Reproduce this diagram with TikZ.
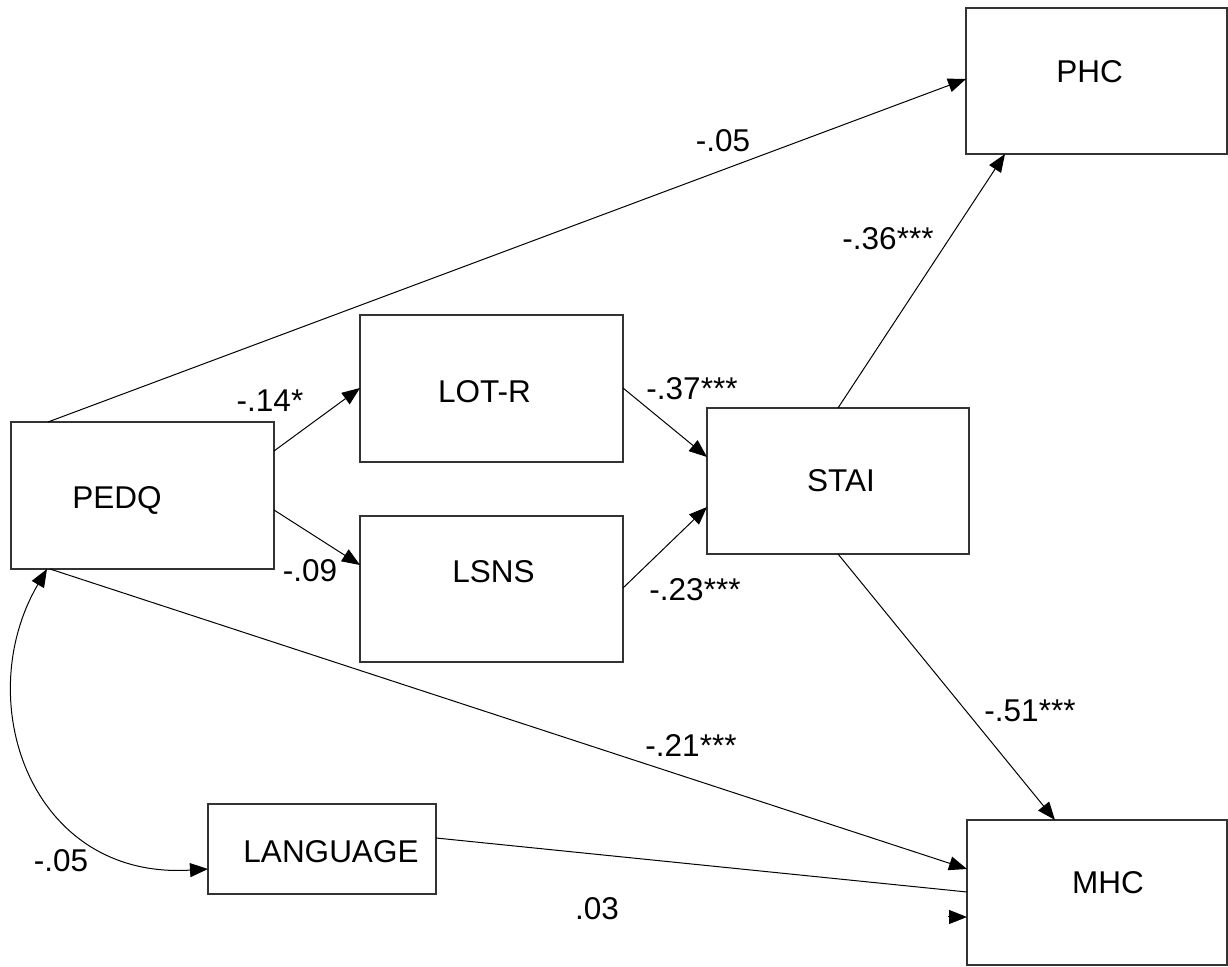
\documentclass[tikz,border=0pt]{standalone}
\usepackage{fontspec}
\setmainfont{Liberation Sans}
\usetikzlibrary{arrows.meta,calc}
\begin{document}
\begin{tikzpicture}[x=0.5pt,y=-0.5pt,
  box/.style={draw=black!80, line width=0.6pt, rectangle, inner sep=0pt, outer sep=0pt},
  txt/.style={inner sep=0pt, font=\fontsize{15.75}{18}\selectfont, text height=11.3pt, text depth=0pt},
  conn/.style={draw, line width=0.5pt, -{Triangle[length=9pt,width=7pt]}},
  plain/.style={draw, line width=0.5pt},
]
\useasboundingbox (0,0) rectangle (1228,967);
% boxes
\node[box, minimum width=131.5pt, minimum height=73.5pt] (pedq) at (142.5,495.5) {};
\node[box, minimum width=131.5pt, minimum height=73.5pt] (lotr) at (491.5,388.5) {};
\node[box, minimum width=131.5pt, minimum height=73pt]   (lsns) at (491.5,589) {};
\node[box, minimum width=131pt,   minimum height=73pt]   (stai) at (838,481) {};
\node[box, minimum width=130.5pt, minimum height=73pt]   (phc)  at (1096.5,81) {};
\node[box, minimum width=130pt,   minimum height=72.5pt] (mhc)  at (1097,892.5) {};
\node[box, minimum width=114pt,   minimum height=45pt]   (lang) at (322,849) {};
% box texts
\node[txt] (pedqt) at (117,497) {PEDQ};
\node[txt] (lotrt) at (484.5,391) {LOT-R};
\node[txt] (lsnst) at (493.5,571) {LSNS};
\node[txt] (stait) at (841,480) {STAI};
\node[txt] (phct)  at (1089.5,71.5) {PHC};
\node[txt] (mhct)  at (1108,882) {MHC};
\node[txt] (langt) at (331,851.5) {LANGUAGE};
% connectors
\draw[conn] ($(pedq.north west)+(37,0)$) -- ($(phc.north west)+(0,71)$);
\draw[conn] ($(pedq.north east)+(0,29)$) -- ($(lotr.north west)+(0,73)$);
\draw[conn] ($(pedq.north east)+(0,88)$) -- ($(lsns.north west)+(0,49)$);
\draw[conn] ($(lotr.north east)+(0,73)$) -- ($(stai.north west)+(0,49)$);
\draw[conn] ($(lsns.north east)+(0,72)$) -- ($(stai.north west)+(0,99)$);
\draw[conn] (stai.north) -- ($(phc.south west)+(39,0)$);
\draw[conn] (stai.south) -- ($(mhc.north west)+(88,0)$);
\draw[conn] ($(pedq.south west)+(39,0)$) -- ($(mhc.north west)+(0,49)$);
\draw[plain] ($(lang.north east)+(0,34)$) -- ($(mhc.north west)+(0,72)$);
\coordinate (fl) at (948,917);
\draw[conn] (fl) -- ($(mhc.north west)+(0,97)$);
\draw[line width=0.5pt, {Triangle[length=9pt,width=7pt]}-{Triangle[length=9pt,width=7pt]}]
  ($(pedq.south west)+(36,0)$) .. controls (-30,700) and (30,880) .. ($(lang.north west)+(0,65)$);
% coefficient labels
\node[txt] (l1) at (723,140) {-.05};
\node[txt] (l2) at (270,400) {-.14*};
\node[txt] (l3) at (310,570) {-.09};
\node[txt] (l4) at (692,388) {-.37***};
\node[txt] (l5) at (695,589) {-.23***};
\node[txt] (l6) at (888,238) {-.36***};
\node[txt] (l7) at (1030,710) {-.51***};
\node[txt] (l8) at (691,745) {-.21***};
\node[txt] (l9) at (61,860) {-.05};
\node[txt] (l10) at (597,908) {.03};
\end{tikzpicture}
\end{document}
